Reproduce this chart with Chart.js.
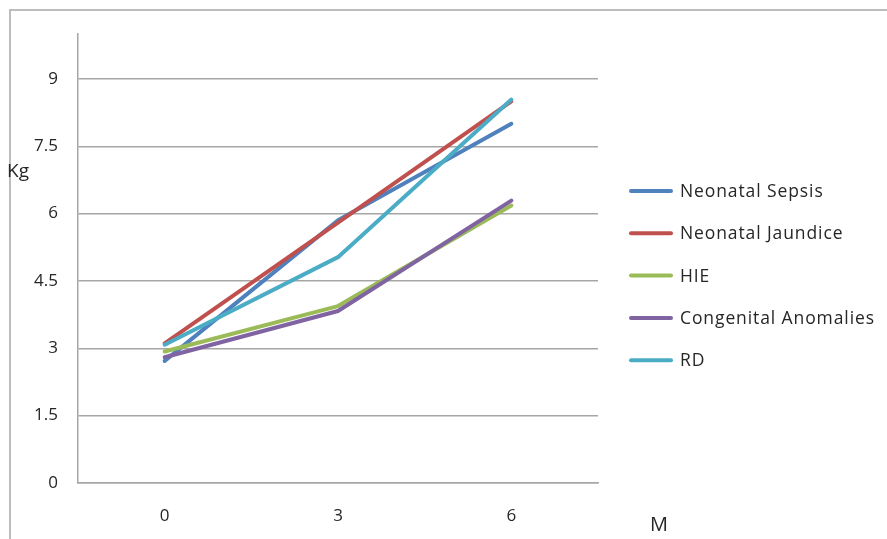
<!DOCTYPE html>
<html>
<head>
<meta charset="utf-8">
<script src="https://cdn.jsdelivr.net/npm/chart.js@4/dist/chart.umd.min.js"></script>
<style>
  html, body { margin: 0; padding: 0; background: #ffffff; }
  #wrap { width: 887px; height: 539px; }
</style>
</head>
<body>
<div id="wrap"><canvas id="c" width="887" height="539"></canvas></div>
<script>
// Age in months at each weighing
const months = ['0', '3', '6'];

// Mean weight (kg) per diagnosis group
const sepsis     = [2.72, 5.85, 8.0];
const jaundice   = [3.11, 5.8, 8.5];
const hie        = [2.93, 3.94, 6.18];
const congenital = [2.8, 3.83, 6.29];
const rd         = [3.08, 5.03, 8.54];

const seriesNames  = ['Neonatal Sepsis', 'Neonatal Jaundice', 'HIE', 'Congenital Anomalies', 'RD'];
const seriesValues = [sepsis, jaundice, hie, congenital, rd];
const seriesColors = ['#4F81BD', '#C0504D', '#9BBB59', '#8064A2', '#4BACC6'];

const yStep = 1.5;
const yMax = 10;
const yTitle = 'Kg';
const xTitle = 'M';

const FONT = '"Open Sans", "Liberation Sans", sans-serif';
const TEXT = '#262626';

// Frame, axis titles and the legend list on the right
const decorations = {
  id: 'decorations',
  afterDraw(chart) {
    const ctx = chart.ctx;
    ctx.save();
    // outer frame
    ctx.strokeStyle = '#bdbdbd';
    ctx.lineWidth = 2;
    ctx.strokeRect(10, 10, 900, 560);

    ctx.fillStyle = TEXT;
    ctx.font = '19px ' + FONT;
    ctx.textBaseline = 'middle';
    ctx.textAlign = 'left';
    ctx.fillText(yTitle, 7, 172);
    ctx.font = '20px ' + FONT;
    ctx.fillText(xTitle, 650, 525);

    // legend
    ctx.font = '17.5px ' + FONT;
    ctx.letterSpacing = '0.9px';
    chart.data.datasets.forEach((ds, i) => {
      const y = 191 + i * 42.3;
      ctx.strokeStyle = ds.borderColor;
      ctx.lineWidth = 4;
      ctx.lineCap = 'round';
      ctx.beginPath();
      ctx.moveTo(631, y);
      ctx.lineTo(671, y);
      ctx.stroke();
      ctx.fillStyle = TEXT;
      ctx.fillText(ds.label, 680, y + 1);
    });
    ctx.restore();
  }
};

new Chart(document.getElementById('c'), {
  type: 'line',
  data: {
    labels: months,
    datasets: seriesNames.map((name, i) => ({
      label: name,
      data: seriesValues[i],
      borderColor: seriesColors[i],
      backgroundColor: seriesColors[i],
      borderWidth: 4,
      borderCapStyle: 'round',
      borderJoinStyle: 'round',
      pointRadius: 0,
      tension: 0,
      fill: false,
      order: seriesNames.length - i
    }))
  },
  options: {
    responsive: false,
    animation: false,
    devicePixelRatio: 1,
    layout: { padding: { top: 34, right: 289, left: 0, bottom: 0 } },
    plugins: {
      legend: { display: false },
      tooltip: { enabled: false }
    },
    scales: {
      x: {
        offset: true,
        grid: { display: false, drawTicks: false },
        border: { display: true, color: '#a6a6a6', width: 1.5 },
        ticks: { color: TEXT, font: { family: FONT, size: 17 }, padding: 23 },
        afterFit(scale) { scale.height = 56; }
      },
      y: {
        min: 0,
        max: yMax,
        grid: { color: '#a6a6a6', lineWidth: 1.5, drawTicks: false },
        border: { display: true, color: '#a6a6a6', width: 1.5 },
        ticks: {
          stepSize: yStep,
          color: TEXT,
          font: { family: FONT, size: 17 },
          padding: 20
        },
        afterBuildTicks(scale) {
          scale.ticks = scale.ticks.filter(t => Math.abs(t.value / yStep - Math.round(t.value / yStep)) < 1e-6);
        },
        afterFit(scale) { scale.width = 78; }
      }
    }
  },
  plugins: [decorations]
});
</script>
</body>
</html>
